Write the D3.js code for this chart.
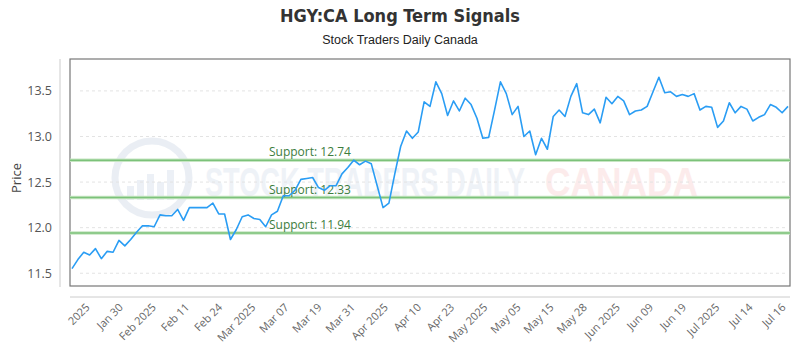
<!DOCTYPE html>
<html>
<head>
<meta charset="utf-8">
<script src="https://cdn.jsdelivr.net/npm/d3@7"></script>
<style>
  body { margin: 0; background: #fff; }
  svg { display: block; }
</style>
</head>
<body>
<svg id="chart" width="800" height="350"></svg>
<script>
// closing prices, one per trading day
const prices = [
  11.55, 11.65, 11.73, 11.70, 11.77, 11.66, 11.74, 11.73, 11.86, 11.80,
  11.87, 11.95, 12.02, 12.02, 12.01, 12.14, 12.13, 12.13, 12.20, 12.08,
  12.22, 12.22, 12.22, 12.22, 12.27, 12.15, 12.15, 11.87, 11.98, 12.12,
  12.14, 12.10, 12.09, 12.01, 12.14, 12.18, 12.35, 12.35, 12.41, 12.53,
  12.54, 12.55, 12.44, 12.41, 12.46, 12.46, 12.59, 12.66, 12.74, 12.69,
  12.73, 12.70, 12.46, 12.22, 12.27, 12.59, 12.89, 13.06, 12.98, 13.05,
  13.38, 13.33, 13.60, 13.47, 13.23, 13.39, 13.28, 13.42, 13.35, 13.20,
  12.98, 12.99, 13.29, 13.60, 13.47, 13.24, 13.33, 13.00, 13.06, 12.80,
  12.98, 12.86, 13.22, 13.29, 13.22, 13.44, 13.58, 13.26, 13.24, 13.30,
  13.15, 13.43, 13.36, 13.44, 13.39, 13.24, 13.28, 13.29, 13.33, 13.49,
  13.65, 13.48, 13.49, 13.44, 13.46, 13.44, 13.47, 13.29, 13.33, 13.32,
  13.10, 13.17, 13.37, 13.26, 13.33, 13.30, 13.17, 13.21, 13.24, 13.35,
  13.32, 13.26, 13.33
];

const xLabels = ["2025", "Jan 30", "Feb 2025", "Feb 11", "Feb 24", "Mar 2025", "Mar 07",
  "Mar 19", "Mar 31", "Apr 2025", "Apr 10", "Apr 23", "May 2025", "May 05", "May 15",
  "May 28", "Jun 2025", "Jun 09", "Jun 19", "Jul 2025", "Jul 14", "Jul 16"];

const yTicks = [11.5, 12.0, 12.5, 13.0, 13.5];

const supportLevels = [12.74, 12.33, 11.94];

const W = 800, H = 350;
const plot = {l: 70, r: 790, t: 59, b: 286};

const svg = d3.select("#chart");

// scales
const x = d3.scaleLinear().domain([0, prices.length - 1]).range([72, 788]);
const y = d3.scaleLinear().domain([11.36, 13.85]).range([plot.b, plot.t]);
const xl = d3.scalePoint().domain(xLabels).range([90, 786]);

// title
svg.append("text")
  .attr("x", W / 2).attr("y", 22)
  .attr("text-anchor", "middle")
  .attr("font-family", "'Liberation Sans Narrow', 'DejaVu Sans Condensed', sans-serif")
  .attr("font-weight", "bold").attr("font-size", 18).attr("fill", "#333")
  .text("HGY:CA Long Term Signals");

svg.append("text")
  .attr("x", W / 2).attr("y", 44)
  .attr("text-anchor", "middle")
  .attr("font-family", "'Liberation Sans Narrow', sans-serif")
  .attr("font-size", 12.5).attr("fill", "#222")
  .text("Stock Traders Daily Canada");

// watermark (faint logo)
const wm = svg.append("g").attr("opacity", 0.5);
wm.append("circle").attr("cx", 152).attr("cy", 178).attr("r", 37)
  .attr("fill", "none").attr("stroke", "#d6dfeb").attr("stroke-width", 7);
wm.append("g").selectAll("rect").data([14, 20, 26, 18, 30]).join("rect")
  .attr("x", (d, i) => 127 + i * 10).attr("y", d => 200 - d)
  .attr("width", 7).attr("height", d => d).attr("fill", "#dbe3ee");
wm.append("text").attr("x", 205).attr("y", 196)
  .attr("font-family", "'Liberation Sans Narrow', sans-serif").attr("font-weight", "bold")
  .attr("font-size", 40).attr("fill", "#dfe6f0")
  .attr("textLength", 320).attr("lengthAdjust", "spacingAndGlyphs")
  .text("STOCK TRADERS DAILY");
wm.append("text").attr("x", 545).attr("y", 196)
  .attr("font-family", "'Liberation Sans', sans-serif").attr("font-weight", "bold")
  .attr("font-size", 40).attr("fill", "#fbd9d9")
  .attr("textLength", 153).attr("lengthAdjust", "spacingAndGlyphs")
  .text("CANADA");

// grid lines
svg.append("g")
  .selectAll("line").data(yTicks).join("line")
  .attr("x1", 80).attr("x2", 785)
  .attr("y1", d => y(d)).attr("y2", d => y(d))
  .attr("stroke", "#e3e3e3").attr("stroke-dasharray", "3,3");

// y axis
const yAxis = svg.append("g")
  .attr("transform", "translate(60,0)")
  .call(d3.axisLeft(y).tickValues(yTicks).tickFormat(d3.format(".1f")).tickSize(0).tickPadding(8));
yAxis.select(".domain").attr("stroke", "#ccc").attr("d", `M0,${plot.t}V${plot.b + 1}`);
yAxis.selectAll("text").attr("font-family", "'Open Sans', sans-serif")
  .attr("font-size", 12.5).attr("fill", "#555");

svg.append("text")
  .attr("transform", `translate(21,178) rotate(-90)`)
  .attr("text-anchor", "middle")
  .attr("font-family", "'Open Sans', sans-serif").attr("font-size", 13).attr("fill", "#444")
  .text("Price");

// x axis
const xAxis = svg.append("g")
  .attr("transform", "translate(0,297)")
  .call(d3.axisBottom(xl).tickSize(0).tickPadding(0));
xAxis.select(".domain").attr("stroke", "#ccc").attr("d", `M${plot.l},0H${plot.r}`);
xAxis.selectAll("text")
  .attr("font-family", "'Open Sans', sans-serif").attr("font-size", 11).attr("fill", "#666")
  .attr("text-anchor", "end").attr("dy", null).attr("y", 0)
  .attr("transform", "translate(0,11) rotate(-45)");

// plot frame
svg.append("rect")
  .attr("x", plot.l).attr("y", plot.t)
  .attr("width", plot.r - plot.l).attr("height", plot.b - plot.t)
  .attr("fill", "none").attr("stroke", "#777").attr("stroke-width", 1.2);

// support lines
const sup = svg.append("g").selectAll("g").data(supportLevels).join("g");
sup.append("line")
  .attr("x1", plot.l).attr("x2", plot.r)
  .attr("y1", d => y(d)).attr("y2", d => y(d))
  .attr("stroke", "#c7e6c3").attr("stroke-width", 3.5);
sup.append("line")
  .attr("x1", plot.l).attr("x2", plot.r)
  .attr("y1", d => y(d)).attr("y2", d => y(d))
  .attr("stroke", "#7cc27a").attr("stroke-width", 1.5);
sup.append("text")
  .attr("x", 269).attr("y", d => y(d) - 4)
  .attr("font-family", "'Open Sans', sans-serif").attr("font-size", 12).attr("fill", "#3d7d3d")
  .text(d => `Support: ${d.toFixed(2)}`);

// price line
svg.append("path")
  .datum(prices)
  .attr("fill", "none")
  .attr("stroke", "#2a9df4")
  .attr("stroke-width", 1.6)
  .attr("stroke-linejoin", "round")
  .attr("d", d3.line().x((d, i) => x(i)).y(d => y(d)));
</script>
</body>
</html>
